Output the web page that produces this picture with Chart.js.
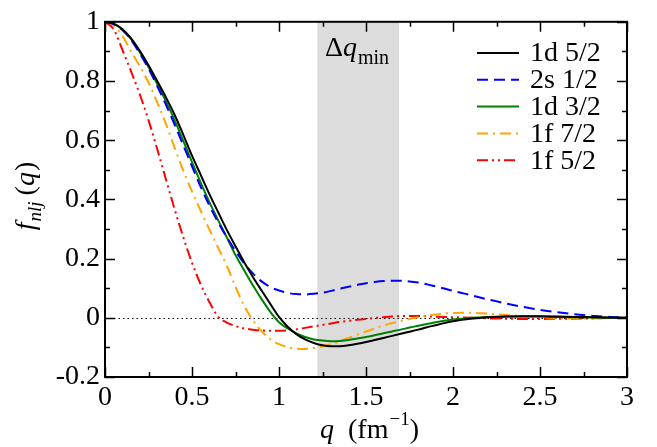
<!DOCTYPE html>
<html>
<head>
<meta charset="utf-8">
<script src="https://cdn.jsdelivr.net/npm/chart.js@4.4.0/dist/chart.umd.min.js"></script>
<style>
  html, body { margin: 0; padding: 0; background: #fff; }
</style>
</head>
<body>
<canvas id="chart" width="657" height="447"></canvas>
<script>
// form factors f_nlj(q)

const q = [0, 0.05, 0.1, 0.15, 0.2, 0.25, 0.3, 0.35, 0.4, 0.45, 0.5, 0.55, 0.6, 0.65, 0.7, 0.75, 0.8, 0.85, 0.9, 0.95,
           1, 1.05, 1.1, 1.15, 1.2, 1.25, 1.3, 1.35, 1.4, 1.45, 1.5, 1.55, 1.6, 1.65, 1.7, 1.75, 1.8, 1.85, 1.9, 1.95,
           2, 2.05, 2.1, 2.2, 2.3, 2.4, 2.5, 2.6, 2.7, 2.8, 2.9, 3]

const d52 = [1.000, 0.994, 0.975, 0.944, 0.902, 0.853, 0.800, 0.745, 0.686, 0.618, 0.548, 0.483, 0.418, 0.357, 0.297, 0.242, 0.188, 0.138, 0.092, 0.047,
             0.003, -0.030, -0.055, -0.073, -0.085, -0.093, -0.096, -0.096, -0.093, -0.088, -0.082, -0.075, -0.068, -0.061, -0.054, -0.047, -0.040, -0.032, -0.025, -0.018,
             -0.012, -0.007, -0.003, 0.002, 0.004, 0.005, 0.005, 0.004, 0.003, 0.002, 0.001, 0.000]
const s12 = [1.000, 0.992, 0.972, 0.938, 0.893, 0.842, 0.783, 0.720, 0.653, 0.583, 0.512, 0.442, 0.380, 0.323, 0.272, 0.226, 0.184, 0.150, 0.123, 0.104,
             0.092, 0.084, 0.080, 0.079, 0.081, 0.085, 0.091, 0.098, 0.105, 0.111, 0.117, 0.121, 0.124, 0.125, 0.125, 0.123, 0.119, 0.113, 0.106, 0.099,
             0.091, 0.084, 0.077, 0.062, 0.049, 0.037, 0.027, 0.019, 0.012, 0.007, 0.003, 0.001]
const d32 = [1.000, 0.993, 0.974, 0.941, 0.897, 0.847, 0.790, 0.732, 0.668, 0.598, 0.526, 0.457, 0.391, 0.330, 0.272, 0.212, 0.160, 0.110, 0.063, 0.020,
             -0.015, -0.036, -0.053, -0.065, -0.073, -0.077, -0.079, -0.078, -0.075, -0.070, -0.065, -0.059, -0.052, -0.046, -0.040, -0.033, -0.027, -0.021, -0.015, -0.010,
             -0.006, -0.003, 0.000, 0.003, 0.004, 0.004, 0.004, 0.003, 0.002, 0.001, 0.000, 0.000]
const f72 = [1.000, 0.988, 0.953, 0.900, 0.850, 0.795, 0.728, 0.655, 0.575, 0.497, 0.427, 0.362, 0.298, 0.237, 0.176, 0.105, 0.040, -0.008, -0.045, -0.072,
             -0.089, -0.099, -0.104, -0.105, -0.102, -0.097, -0.089, -0.079, -0.068, -0.057, -0.046, -0.036, -0.026, -0.018, -0.011, -0.004, 0.002, 0.007, 0.011, 0.014,
             0.016, 0.017, 0.017, 0.014, 0.010, 0.006, 0.002, -0.001, -0.002, -0.002, -0.001, 0.000]
const f52 = [1.000, 0.975, 0.905, 0.832, 0.755, 0.668, 0.570, 0.468, 0.367, 0.272, 0.186, 0.113, 0.053, 0.004, -0.016, -0.028, -0.036, -0.040, -0.043, -0.044,
             -0.044, -0.042, -0.039, -0.034, -0.029, -0.024, -0.019, -0.014, -0.010, -0.007, -0.004, -0.001, 0.002, 0.004, 0.006, 0.006, 0.006, 0.005, 0.004, 0.003,
             0.002, 0.001, 0.000, -0.002, -0.003, -0.004, -0.004, -0.003, -0.003, -0.002, -0.001, 0.000]

const seriesNames = ['1d 5/2', '2s 1/2', '1d 3/2', '1f 7/2', '1f 5/2']
const seriesValues = [d52, s12, d32, f72, f52]
const bandQ = [1.22, 1.69]   // shaded Δq_min window
const xTicks = [0, 0.5, 1, 1.5, 2, 2.5, 3]
const yTicks = [-0.2, 0, 0.2, 0.4, 0.6, 0.8, 1]

const colors = ['#000000', '#0000ff', '#008000', '#ffa500', '#ff0000']
const dashes = [[], [11, 6], [], [11, 5, 2, 5], [11, 4, 2, 4, 2, 4]]
const serif = '"Liberation Serif", "Times New Roman", serif'

Chart.defaults.font.family = serif
Chart.defaults.color = '#000'

// draw a row of text pieces with different fonts / offsets
const drawRuns = (ctx, runs, x, y, measureOnly = false) => {
    let w = 0
    runs.forEach(r => {
        ctx.font = r.font
        if (!measureOnly) ctx.fillText(r.t, x + w, y + (r.dy || 0))
        w += ctx.measureText(r.t).width + (r.gap || 0)
    })
    return w
}

const decorPlugin = {
    id: 'decor',
    beforeDatasetsDraw(chart) {
        const {ctx, chartArea: ca, scales: {x, y}} = chart
        ctx.save()
        ctx.fillStyle = '#dcdcdc'
        const x0 = x.getPixelForValue(bandQ[0]), x1 = x.getPixelForValue(bandQ[1])
        ctx.fillRect(x0, ca.top, x1 - x0, ca.height)
        // dotted zero line
        ctx.strokeStyle = '#000'
        ctx.lineWidth = 1
        ctx.setLineDash([1.5, 3])
        const y0 = Math.round(y.getPixelForValue(0)) + 0.5
        ctx.beginPath()
        ctx.moveTo(ca.left, y0)
        ctx.lineTo(ca.right, y0)
        ctx.stroke()
        ctx.restore()
    },
    afterDatasetsDraw(chart) {
        const {ctx, chartArea: ca, scales: {x, y}} = chart
        ctx.save()
        ctx.strokeStyle = '#000'
        ctx.lineWidth = 1.5
        ctx.setLineDash([])
        ctx.beginPath()
        for (let i = 0; i <= 12; i++) {
            const px = Math.round(x.getPixelForValue(i * 0.25)) + 0.5
            const len = i % 2 === 0 ? 10 : 5
            ctx.moveTo(px, ca.bottom); ctx.lineTo(px, ca.bottom - len)
            ctx.moveTo(px, ca.top); ctx.lineTo(px, ca.top + len)
        }
        for (let i = 0; i <= 12; i++) {
            const py = Math.round(y.getPixelForValue(-0.2 + i * 0.1)) + 0.5
            const len = i % 2 === 0 ? 10 : 5
            ctx.moveTo(ca.left, py); ctx.lineTo(ca.left + len, py)
            ctx.moveTo(ca.right, py); ctx.lineTo(ca.right - len, py)
        }
        ctx.stroke()
        ctx.lineWidth = 2
        ctx.strokeRect(ca.left, ca.top, ca.right - ca.left, ca.bottom - ca.top)

        // Δq_min label
        ctx.fillStyle = '#000'
        ctx.textBaseline = 'alphabetic'
        drawRuns(ctx, [
            {t: 'Δ', font: `28px ${serif}`},
            {t: 'q', font: `italic 28px ${serif}`, gap: 1},
            {t: 'min', font: `20px ${serif}`, dy: 8}
        ], 325, 56)

        // legend
        ctx.textBaseline = 'middle'
        seriesNames.forEach((name, i) => {
            const ly = 53 + i * 26.8
            ctx.strokeStyle = colors[i]
            ctx.lineWidth = 2
            ctx.setLineDash(dashes[i])
            ctx.beginPath()
            ctx.moveTo(477, ly); ctx.lineTo(519, ly)
            ctx.stroke()
            ctx.font = `28px ${serif}`
            ctx.fillText(name, 530, ly + 1)
        })
        ctx.setLineDash([])

        // x axis title
        ctx.textBaseline = 'alphabetic'
        drawRuns(ctx, [
            {t: 'q', font: `italic 28px ${serif}`, gap: 14},
            {t: '(fm', font: `28px ${serif}`, gap: 1},
            {t: '\u22121', font: `19px ${serif}`, dy: -13},
            {t: ')', font: `28px ${serif}`}
        ], 320, 438)

        // y axis title, rotated
        const yRuns = [
            {t: 'f', font: `italic 28px ${serif}`, gap: 1},
            {t: 'nlj', font: `italic 19px ${serif}`, dy: 7, gap: 6},
            {t: '(', font: `28px ${serif}`},
            {t: 'q', font: `italic 28px ${serif}`, gap: 1},
            {t: ')', font: `28px ${serif}`}
        ]
        const w = drawRuns(ctx, yRuns, 0, 0, true)
        ctx.translate(34, 196)
        ctx.rotate(-Math.PI / 2)
        drawRuns(ctx, yRuns, -w / 2, 0)
        ctx.restore()
    }
}

const ctx = document.getElementById('chart').getContext('2d')

const formFactorChart = new Chart(ctx, {
    type: 'line',
    data: {
        datasets: seriesNames.map((name, i) => ({
            label: name,
            data: q.map((qq, k) => ({x: qq, y: seriesValues[i][k]})),
            borderColor: colors[i],
            borderDash: dashes[i],
            borderWidth: 2,
            pointRadius: 0,
            fill: false,
            cubicInterpolationMode: 'monotone'
        }))
    },
    options: {
        responsive: false,
        animation: false,
        events: [],
        layout: {autoPadding: false, padding: {left: 0, top: 12, right: 30, bottom: 0}},
        plugins: {legend: {display: false}, tooltip: {enabled: false}},
        scales: {
            x: {
                type: 'linear',
                min: 0, max: 3,
                afterFit: s => { s.height = 70 },
                afterBuildTicks: s => { s.ticks = xTicks.map(v => ({value: v})) },
                grid: {display: false, drawTicks: false},
                border: {display: false},
                ticks: {
                    font: {size: 28},
                    padding: 4,
                    maxRotation: 0,
                    autoSkip: false,
                    callback: v => String(v)
                }
            },
            y: {
                type: 'linear',
                min: -0.2, max: 1,
                afterFit: s => { s.width = 105 },
                afterBuildTicks: s => { s.ticks = yTicks.map(v => ({value: v})) },
                grid: {display: false, drawTicks: false},
                border: {display: false},
                ticks: {
                    font: {size: 28},
                    padding: 5,
                    autoSkip: false,
                    callback: v => String(Math.round(v * 10) / 10)
                }
            }
        }
    },
    plugins: [decorPlugin]
})
</script>
</body>
</html>
